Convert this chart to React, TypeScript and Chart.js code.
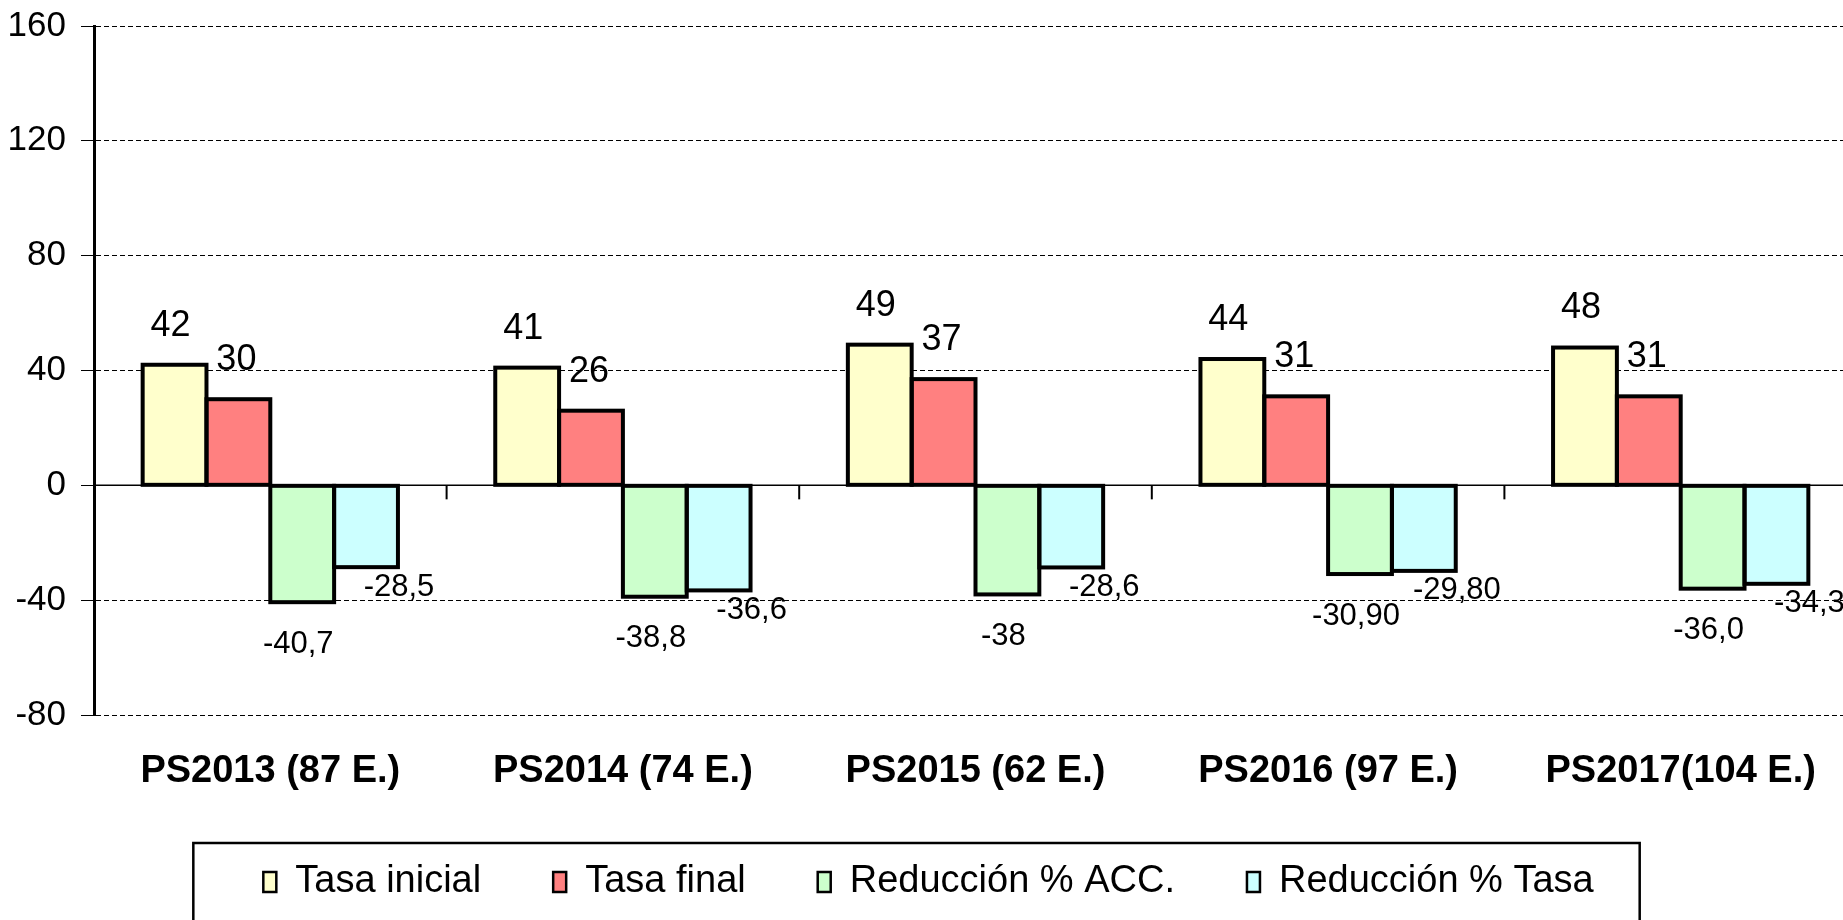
import React, { useEffect, useRef } from "react";
import { Chart, registerables } from "chart.js";

Chart.register(...registerables);

const categories = [
  "PS2013 (87 E.)",
  "PS2014 (74 E.)",
  "PS2015 (62 E.)",
  "PS2016 (97 E.)",
  "PS2017(104 E.)",
];
const tasaInicial = [42, 41, 49, 44, 48];
const tasaFinal = [30, 26, 37, 31, 31];
const reduccionAcc = [-40.7, -38.8, -38, -30.9, -36.0];
const reduccionTasa = [-28.5, -36.6, -28.6, -29.8, -34.3];

const tasaInicialLabels = ["42", "41", "49", "44", "48"];
const tasaFinalLabels = ["30", "26", "37", "31", "31"];
const reduccionAccLabels = ["-40,7", "-38,8", "-38", "-30,90", "-36,0"];
const reduccionTasaLabels = ["-28,5", "-36,6", "-28,6", "-29,80", "-34,3"];

const yTicks = [-80, -40, 0, 40, 80, 120, 160];

const FONT = "'Liberation Sans', Arial, Helvetica, sans-serif";

const CANVAS_W = 1860;
const CANVAS_H = 920;
const BAR_OUTLINE = 4;

const valueLabelsPlugin = {
  id: "valueLabels",
  beforeDatasetsDraw(chart: any) {
    const { ctx, chartArea, scales } = chart;
    const y0 = scales.y.getPixelForValue(0);
    const xs = scales.x;
    ctx.save();
    ctx.strokeStyle = "#000";
    ctx.lineWidth = 1.5;
    ctx.setLineDash([]);
    ctx.beginPath();
    ctx.moveTo(chartArea.left, y0);
    ctx.lineTo(chartArea.right, y0);
    ctx.stroke();
    ctx.lineWidth = 2;
    for (let i = 0; i < categories.length; i++) {
      const a = xs.getPixelForValue(i);
      const b = i + 1 < categories.length ? xs.getPixelForValue(i + 1) : a + (a - xs.getPixelForValue(i - 1));
      const bx = (a + b) / 2;
      ctx.beginPath();
      ctx.moveTo(bx, y0);
      ctx.lineTo(bx, y0 + 14);
      ctx.stroke();
    }
    ctx.restore();
  },
  afterDatasetsDraw(chart: any) {
    const { ctx } = chart;
    ctx.save();
    ctx.strokeStyle = "#000";
    ctx.lineWidth = BAR_OUTLINE;
    ctx.lineJoin = "miter";
    ctx.setLineDash([]);
    chart.data.datasets.forEach((ds: any, di: number) => {
      const meta = chart.getDatasetMeta(di);
      meta.data.forEach((el: any) => {
        const w = el.width;
        const top = Math.min(el.y, el.base);
        const h = Math.abs(el.y - el.base);
        ctx.strokeRect(el.x - w / 2, top, w, h);
      });
    });
    ctx.fillStyle = "#000";
    ctx.textAlign = "center";
    ctx.textBaseline = "middle";
    chart.data.datasets.forEach((ds: any, di: number) => {
      const meta = chart.getDatasetMeta(di);
      meta.data.forEach((el: any, i: number) => {
        const txt = ds.valueLabels[i];
        ctx.font = `${ds.labelSize}px ${FONT}`;
        ctx.fillText(txt, el.x + ds.labelDx, el.y + ds.labelDy);
      });
    });
    ctx.restore();
  },
  afterDraw(chart: any) {
    const legend = chart.legend;
    if (!legend || !legend.legendHitBoxes || !legend.legendHitBoxes.length) return;
    const hb = legend.legendHitBoxes;
    const first = hb[0];
    const last = hb[hb.length - 1];
    const { ctx } = chart;
    ctx.save();
    ctx.strokeStyle = "#000";
    ctx.lineWidth = 2.5;
    ctx.setLineDash([]);
    const left = first.left - 70;
    const right = last.left + last.width + 46;
    const top = first.top - 20;
    ctx.strokeRect(left, top, right - left, 200);
    ctx.restore();
  },
};

export default function App() {
  const ref = useRef<HTMLCanvasElement | null>(null);

  useEffect(() => {
    if (!ref.current) return;
    const mk = (label: string, data: number[], color: string, labels: string[], dx: number, dy: number, size: number) => ({
      label,
      data,
      backgroundColor: color,
      borderColor: "#000",
      borderWidth: 0,
      borderSkipped: false,
      inflateAmount: 0,
      categoryPercentage: 0.724,
      barPercentage: 1.0,
      valueLabels: labels,
      labelDx: dx,
      labelDy: dy,
      labelSize: size,
    });
    const chart = new Chart(ref.current, {
      type: "bar",
      data: {
        labels: categories,
        datasets: [
          mk("Tasa inicial", tasaInicial, "#FFFFCC", tasaInicialLabels, -4, -39, 36),
          mk("Tasa final", tasaFinal, "#FF8080", tasaFinalLabels, -2, -39, 36),
          mk("Reducción % ACC.", reduccionAcc, "#CCFFCC", reduccionAccLabels, -4, 42, 31),
          mk("Reducción % Tasa", reduccionTasa, "#CCFFFF", reduccionTasaLabels, 33, 20, 31),
        ] as any,
      },
      options: {
        responsive: false,
        maintainAspectRatio: false,
        animation: false,
        devicePixelRatio: 1,
        layout: { padding: { left: 0, right: 3, top: 26, bottom: 9 } },
        plugins: {
          tooltip: { enabled: false },
          legend: {
            display: true,
            position: "bottom",
            labels: {
              color: "#000",
              font: { family: FONT, size: 38 },
              boxWidth: 13,
              boxHeight: 20,
              padding: 72,
              generateLabels: (chart: any) =>
                chart.data.datasets.map((ds: any, i: number) => ({
                  text: ds.label,
                  fillStyle: ds.backgroundColor,
                  strokeStyle: "#000",
                  lineWidth: 2.5,
                  hidden: false,
                  datasetIndex: i,
                  fontColor: "#000",
                })),
            },
          },
        },
        scales: {
          x: {
            grid: { display: false, drawTicks: false },
            border: { display: false },
            ticks: {
              color: "#000",
              font: { family: FONT, size: 38, weight: "bold" },
              padding: 34,
              maxRotation: 0,
              autoSkip: false,
            },
            afterFit: (s: any) => {
              s.height = 76;
            },
          },
          y: {
            min: -80,
            max: 160,
            afterBuildTicks: (s: any) => {
              s.ticks = yTicks.map((v) => ({ value: v }));
            },
            grid: {
              color: "#000",
              lineWidth: 1,
              tickLength: 13,
              drawTicks: true,
            },
            border: {
              display: true,
              color: "#000",
              width: 3,
              dash: [5, 3],
            },
            ticks: {
              color: "#000",
              font: { family: FONT, size: 35 },
              padding: 15,
            },
            afterFit: (s: any) => {
              s.width = 94;
              s.paddingTop = 0;
              s.paddingBottom = 0;
            },
          },
        },
      } as any,
      plugins: [valueLabelsPlugin],
    });
    return () => chart.destroy();
  }, []);

  return (
    <div
      style={{
        position: "fixed",
        left: 0,
        top: 0,
        width: 1843,
        height: 920,
        overflow: "hidden",
        background: "#fff",
      }}
    >
      <canvas ref={ref} width={CANVAS_W} height={CANVAS_H} style={{ display: "block", width: CANVAS_W, height: CANVAS_H }} />
    </div>
  );
}
